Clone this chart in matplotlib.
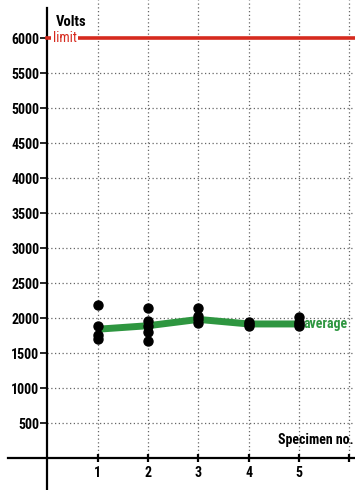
import matplotlib
matplotlib.use("Agg")
import matplotlib.pyplot as plt
from matplotlib import font_manager

names = {f.name for f in font_manager.fontManager.ttflist}
fam = [n for n in ["Liberation Sans Narrow", "Roboto Condensed", "Liberation Sans"] if n in names] + ["DejaVu Sans"]
plt.rcParams['font.family'] = fam

# data
specimens = [1, 2, 3, 4, 5]
readings = {
    1: [2180, 1880, 1760, 1700],
    2: [2140, 1960, 1880, 1800, 1670],
    3: [2150, 2030, 1980, 1930],
    4: [1940, 1910, 1890],
    5: [2020, 1950, 1910, 1880],
}
average = [1840, 1890, 1980, 1915, 1915]
limit = 6000
yticks = [500, 1000, 1500, 2000, 2500, 3000, 3500, 4000, 4500, 5000, 5500, 6000]
xticks = [1, 2, 3, 4, 5]

fig = plt.figure(figsize=(3.55, 4.90), dpi=100)
ax = fig.add_axes([0, 0, 1, 1])
ax.set_xlim(-0.944, 6.113)
ax.set_ylim(-457, 6543)
ax.set_facecolor("white")

for s in ["top", "right"]:
    ax.spines[s].set_visible(False)
ax.spines["left"].set_position(("data", 0))
ax.spines["bottom"].set_position(("data", 0))
ax.spines["left"].set_bounds(-457, 6430)
ax.spines["bottom"].set_bounds(-0.78, 6.113)
ax.spines["left"].set_linewidth(1.6)
ax.spines["bottom"].set_linewidth(1.6)

grid_kw = dict(color="#666666", linewidth=0.9, linestyle=(0, (1.0, 2.0)), zorder=1)
for v in yticks[:-1]:
    ax.plot([0, 6.113], [v, v], **grid_kw)
for x in xticks + [6]:
    ax.plot([x, x], [0, 6543], **grid_kw)

ax.set_yticks(yticks)
ax.set_yticklabels([str(v) for v in yticks], fontsize=10, fontweight="bold")
ax.tick_params(axis="y", direction="out", length=5, width=1.2, pad=1)
ax.set_xticks(xticks + [6])
ax.set_xticklabels([str(v) for v in xticks] + [""], fontsize=10, fontweight="bold")
ax.tick_params(axis="x", direction="inout", length=6, width=1.6, pad=3)

# limit line
ax.plot([0, 6.113], [limit, limit], color="#d62a1e", linewidth=2.6, zorder=3)
ax.text(0.1, limit, "limit", color="#d62a1e", fontsize=10, va="center", ha="left",
        bbox=dict(facecolor="white", edgecolor="none", pad=0.8), zorder=4)

# average line
ax.plot(specimens, average, color="#2e9640", linewidth=5, zorder=3, solid_capstyle="butt")
ax.text(5.08, 1915, "average", color="#2e9640", fontsize=10, fontweight="bold",
        va="center", ha="left", zorder=4)

# individual readings
for s in specimens:
    ax.scatter([s] * len(readings[s]), readings[s], s=42, color="black", zorder=5)

ax.text(0.16, 6229, "Volts", fontsize=10.5, fontweight="bold", ha="left", va="center")
ax.text(6.08, 257, "Specimen no.", fontsize=10, fontweight="bold", ha="right", va="center")

fig.savefig("out.png", dpi=100)
